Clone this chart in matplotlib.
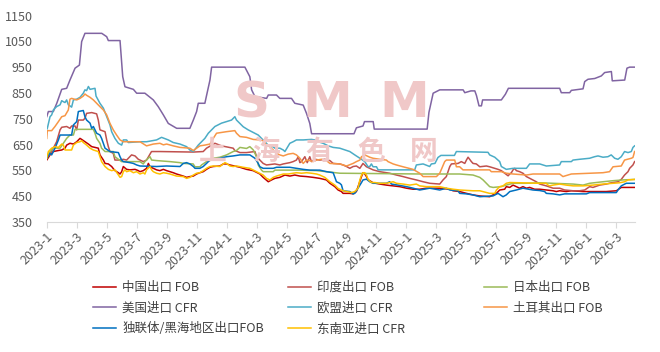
import matplotlib
matplotlib.use("Agg")
import matplotlib.pyplot as plt

plt.rcParams['font.family'] = ['Noto Sans CJK SC', 'DejaVu Sans']

# x = months since 2023-01, y = price (USD/t)
china = [(0,590),(0.22,610),(0.44,623),(0.78,627),(1.0,629),(1.22,636),(1.33,648),(1.55,655),(1.78,652),(2.0,661),(2.22,674),(2.33,670),(2.55,661),(2.78,652),(3.0,642),(3.22,639),(3.44,636),(3.55,610),(3.78,590),(3.89,577),(4.11,575),(4.33,565),(4.55,549),(4.78,541),(4.89,536),(5.0,545),(5.11,565),(5.33,554),(5.55,552),(5.89,554),(6.11,549),(6.22,545),(6.44,549),(6.66,558),(6.78,577),(6.89,564),(7.11,558),(7.33,552),(7.55,549),(7.78,554),(8.0,549),(8.22,545),(8.44,541),(8.66,536),(8.89,532),(9.11,528),(9.33,523),(9.55,526),(9.78,528),(10.0,536),(10.22,541),(10.44,545),(10.66,554),(10.89,562),(11.11,565),(11.55,567),(11.78,575),(12.0,575),(12.22,571),(12.89,562),(13.33,554),(13.77,549),(14.22,536),(14.44,523),(14.78,506),(15.0,513),(15.22,519),(15.55,523),(15.89,532),(16.22,528),(16.55,532),(16.89,528),(17.33,526),(17.77,523),(18.22,519),(18.66,513),(18.89,500),(19.22,487),(19.44,474),(19.66,468),(19.77,461),(20.22,461),(20.44,459),(20.66,468),(20.77,487),(21.0,526),(21.1,541),(21.22,536),(21.33,526),(21.44,513),(21.55,510),(21.77,502),(22.22,497),(22.66,493),(23.11,490),(23.55,487),(24.0,481),(24.44,477),(24.88,477),(25.33,481),(26.22,481),(26.89,477),(27.11,471),(27.55,468),(28.0,461),(28.44,455),(28.89,451),(29.55,448),(29.77,455),(30.0,461),(30.22,474),(30.55,477),(30.66,487),(30.89,484),(31.11,493),(31.33,487),(31.55,481),(31.77,487),(32.0,481),(32.22,484),(32.55,477),(32.89,477),(33.33,474),(33.78,471),(34.0,468),(34.22,471),(34.66,468),(35.0,471),(35.78,468),(36.66,468),(37.33,468),(38.0,471),(38.33,484),(39.22,484)]
india = [(0,597),(0.22,616),(0.44,636),(0.66,661),(0.89,707),(1.0,717),(1.33,720),(1.55,713),(1.66,722),(1.89,722),(2.0,707),(2.11,745),(2.44,745),(2.55,752),(2.66,771),(3.0,774),(3.33,769),(3.44,745),(3.55,707),(3.89,700),(4.0,668),(4.11,642),(4.22,623),(4.44,616),(4.55,590),(4.89,590),(5.11,593),(5.33,590),(5.66,610),(5.89,606),(6.11,593),(6.22,590),(6.44,584),(6.66,590),(6.99,623),(7.55,623),(9.78,621),(10.44,623),(10.66,636),(11.22,655),(11.66,645),(12.44,636),(12.55,627),(12.89,619),(13.33,619),(13.89,623),(14.0,603),(14.22,590),(14.44,577),(14.66,571),(15.22,575),(15.55,571),(15.78,575),(16.22,580),(16.44,584),(16.66,590),(16.78,603),(16.89,580),(17.0,584),(17.22,603),(17.38,580),(17.55,603),(17.66,584),(17.89,593),(18.22,590),(18.55,593),(18.89,588),(19.11,577),(19.55,575),(19.77,571),(20.0,565),(20.22,558),(20.44,565),(20.66,567),(20.89,558),(21.1,577),(21.33,564),(21.55,558),(21.77,552),(22.22,545),(22.88,539),(23.33,532),(23.77,526),(24.22,519),(24.66,513),(25.11,506),(25.55,500),(26.22,497),(26.44,513),(26.66,526),(26.89,565),(27.0,575),(27.44,577),(27.66,584),(27.89,577),(28.0,590),(28.11,601),(28.33,584),(28.44,577),(28.66,575),(28.89,564),(29.33,567),(29.55,564),(29.89,558),(30.11,554),(30.33,549),(30.55,539),(30.78,529),(30.89,536),(31.0,541),(31.11,552),(31.22,558),(31.33,549),(31.55,545),(31.77,539),(32.0,526),(32.33,516),(32.66,506),(32.89,497),(33.33,490),(33.78,481),(34.22,481),(34.55,474),(35.11,471),(35.55,471),(35.89,474),(36.22,487),(36.44,484),(36.89,493),(37.33,497),(37.66,502),(38.11,506),(38.33,515),(38.55,532),(38.78,545),(38.89,558),(39.11,571),(39.22,584)]
japan = [(0,597),(0.22,623),(0.44,636),(0.89,636),(1.11,655),(1.33,674),(1.55,687),(1.78,687),(1.89,709),(3.11,709),(3.22,694),(3.33,674),(3.55,655),(3.66,636),(3.89,623),(4.44,623),(4.55,603),(4.78,593),(5.0,584),(6.22,584),(6.44,575),(6.55,584),(6.77,597),(6.89,603),(7.0,590),(7.33,588),(8.22,584),(8.89,580),(9.11,577),(9.77,575),(9.89,564),(10.22,564),(10.33,571),(10.66,584),(10.89,588),(11.11,597),(11.55,601),(12.0,610),(12.44,623),(12.66,627),(12.89,639),(13.33,635),(13.55,642),(13.77,630),(13.89,616),(14.0,603),(14.11,571),(14.33,551),(14.44,545),(15.11,545),(15.22,551),(16.89,551),(18.0,549),(18.66,545),(19.55,539),(25.0,536),(27.55,536),(28.44,532),(28.89,523),(29.11,513),(29.33,500),(29.55,487),(29.78,484),(30.33,487),(30.66,493),(31.11,500),(32.0,500),(32.89,502),(35.11,497),(35.78,493),(36.22,500),(37.11,506),(37.78,510),(38.44,513),(39.22,515)]
usa = [(0,758),(0.11,778),(0.44,778),(0.67,810),(1.0,864),(1.33,868),(1.55,900),(1.89,946),(2.18,958),(2.33,1049),(2.55,1081),(3.67,1081),(4.0,1068),(4.11,1053),(4.89,1053),(5.07,913),(5.22,874),(5.78,864),(6.0,849),(6.55,849),(7.11,823),(7.44,797),(7.78,765),(8.11,732),(8.67,713),(9.55,713),(9.78,745),(10.0,778),(10.11,810),(10.55,810),(10.67,842),(10.89,900),(11.0,950),(13.22,950),(13.55,913),(13.67,862),(13.89,836),(14.67,829),(14.78,842),(15.33,842),(15.55,829),(16.33,829),(16.55,810),(17.11,803),(17.33,771),(17.55,732),(17.67,692),(20.5,692),(20.66,715),(21.1,722),(21.2,739),(21.78,739),(21.85,710),(25.38,710),(25.5,775),(25.78,849),(26.22,862),(27.78,862),(27.89,851),(28.3,858),(28.56,858),(28.67,840),(28.84,800),(29.0,800),(29.08,823),(30.33,823),(30.6,845),(30.8,868),(34.22,868),(34.33,851),(34.89,851),(35.0,860),(35.78,866),(35.89,894),(36.11,903),(36.56,906),(37.0,916),(37.22,929),(37.67,933),(37.73,897),(38.56,900),(38.71,946),(38.89,950),(39.22,950)]
eu = [(0,709),(0.04,713),(0.22,758),(0.33,765),(0.44,784),(0.55,791),(0.66,797),(0.89,804),(1.0,820),(1.11,816),(1.22,813),(1.33,823),(1.44,804),(1.55,800),(1.66,795),(1.78,823),(2.0,826),(2.22,833),(2.44,849),(2.55,862),(2.66,859),(2.78,875),(2.89,864),(3.22,868),(3.29,838),(3.55,810),(3.78,791),(4.0,758),(4.22,726),(4.33,700),(4.55,674),(4.78,655),(5.0,648),(5.11,668),(5.33,668),(5.44,658),(6.22,661),(6.66,661),(7.33,668),(7.66,678),(8.11,668),(8.44,658),(8.89,652),(9.33,642),(9.55,629),(9.78,623),(10.11,648),(10.55,674),(10.78,694),(11.22,720),(11.66,733),(12.0,739),(12.33,745),(12.55,758),(12.66,745),(13.11,719),(13.44,707),(13.77,697),(14.11,687),(14.33,674),(14.55,661),(14.77,648),(15.0,645),(15.22,636),(15.55,636),(15.78,629),(15.89,623),(16.22,655),(16.44,661),(16.66,668),(17.11,668),(17.66,670),(17.89,668),(18.11,661),(18.44,655),(18.78,645),(19.11,639),(19.55,636),(20.22,623),(20.55,610),(21.0,593),(21.22,584),(21.44,564),(21.55,565),(21.66,575),(21.77,564),(22.0,564),(22.11,552),(24.55,552),(24.66,571),(25.11,575),(25.55,565),(25.66,575),(25.9,577),(26.1,600),(26.3,608),(27.2,608),(27.33,623),(29.44,620),(29.55,610),(29.89,601),(30.22,584),(30.33,565),(30.66,554),(31.11,558),(32.0,558),(32.22,575),(32.89,575),(33.33,567),(34.22,571),(34.33,584),(35.0,584),(35.11,590),(35.55,593),(36.22,597),(36.55,603),(36.78,606),(37.11,601),(37.44,603),(37.66,610),(37.89,597),(38.11,593),(38.33,603),(38.55,623),(38.78,619),(39.0,623),(39.11,639),(39.22,645)]
turkey = [(0,674),(0.04,704),(0.33,704),(0.55,720),(0.78,739),(1.0,758),(1.22,762),(1.44,784),(1.55,826),(1.66,829),(2.0,823),(2.22,829),(2.44,838),(2.55,846),(2.66,841),(2.89,833),(3.11,823),(3.33,810),(3.55,797),(3.78,784),(4.0,765),(4.22,732),(4.44,707),(4.66,687),(4.89,668),(5.11,661),(6.22,661),(6.66,645),(7.11,652),(7.55,655),(7.78,649),(8.0,652),(8.44,645),(8.89,639),(9.55,636),(9.78,627),(10.0,636),(10.22,645),(10.55,648),(10.89,652),(11.11,674),(11.33,694),(12.0,700),(12.55,704),(12.66,694),(12.89,681),(13.33,678),(13.77,670),(14.22,668),(14.44,665),(14.66,648),(14.89,642),(15.11,629),(15.33,616),(15.55,610),(15.78,606),(16.11,613),(16.44,616),(16.66,610),(16.89,597),(17.11,577),(17.33,590),(17.55,588),(17.77,584),(18.0,590),(18.33,593),(18.66,588),(18.89,577),(19.55,575),(20.0,567),(20.44,577),(20.66,584),(20.89,590),(21.0,603),(21.22,610),(21.55,601),(21.77,597),(22.22,593),(22.66,590),(22.77,584),(23.11,575),(23.33,571),(23.77,564),(24.44,554),(24.88,539),(25.11,526),(26.0,526),(26.22,539),(26.55,584),(26.66,590),(27.22,590),(27.33,564),(27.55,564),(27.77,552),(29.55,552),(29.66,545),(30.33,545),(30.66,539),(31.11,536),(32.0,532),(32.44,536),(34.22,536),(34.44,526),(34.66,530),(35.0,536),(37.11,541),(37.55,545),(37.78,564),(38.33,567),(38.55,590),(39.0,597),(39.11,600),(39.22,623)]
cis = [(0,597),(0.22,616),(0.33,610),(0.55,636),(0.78,668),(0.89,687),(1.66,687),(1.78,726),(2.0,739),(2.11,778),(2.44,782),(2.55,758),(2.66,745),(2.89,733),(3.0,713),(3.11,720),(3.22,707),(3.33,694),(3.55,687),(3.66,674),(3.89,636),(4.22,623),(4.78,619),(4.89,603),(5.0,590),(5.11,584),(5.55,580),(5.78,577),(6.0,571),(6.22,567),(7.33,565),(8.0,567),(8.89,565),(9.11,577),(9.33,580),(9.55,575),(9.78,565),(9.89,558),(10.22,558),(10.44,565),(10.66,577),(10.89,590),(11.11,593),(11.55,597),(12.0,603),(12.44,606),(12.89,610),(13.55,610),(13.89,597),(14.11,577),(14.22,564),(14.44,558),(15.11,558),(15.33,562),(16.22,562),(16.66,558),(17.11,554),(17.55,551),(18.22,551),(18.66,545),(19.11,541),(19.33,506),(19.55,500),(19.66,494),(19.77,471),(20.22,468),(20.44,459),(20.55,461),(20.77,481),(21.0,503),(21.1,513),(21.33,516),(21.55,506),(21.77,500),(22.66,500),(22.88,506),(23.0,497),(23.44,493),(24.0,487),(24.44,481),(24.88,474),(25.55,481),(26.22,474),(26.66,481),(26.89,474),(27.44,471),(27.55,461),(28.0,459),(28.44,455),(28.89,448),(29.77,451),(30.11,461),(30.44,448),(30.66,455),(30.89,468),(31.33,474),(31.77,481),(32.44,474),(32.89,472),(33.22,468),(33.33,461),(33.78,459),(34.22,455),(34.55,459),(36.0,459),(36.22,464),(38.0,464),(38.11,474),(38.33,490),(38.66,500),(39.22,500)]
sea = [(0,597),(0.11,623),(0.33,636),(0.55,642),(0.78,639),(1.0,652),(1.11,648),(1.22,629),(1.66,629),(1.78,648),(2.0,658),(2.22,661),(2.33,665),(2.44,658),(2.66,648),(2.89,636),(3.11,629),(3.44,623),(3.55,603),(3.66,584),(3.89,565),(4.11,554),(4.33,549),(4.55,552),(4.78,532),(4.89,523),(5.0,526),(5.11,545),(5.22,552),(5.33,545),(5.55,549),(5.78,541),(6.0,545),(6.22,536),(6.44,541),(6.55,536),(6.66,552),(6.89,565),(7.0,552),(7.11,545),(7.33,539),(7.55,536),(7.78,541),(8.0,539),(8.22,536),(8.44,532),(8.66,528),(9.11,526),(9.33,519),(9.55,523),(9.78,532),(10.0,539),(10.22,541),(10.44,549),(10.66,558),(10.89,565),(11.11,567),(11.55,565),(11.78,575),(11.89,580),(12.0,577),(12.22,567),(12.44,565),(12.66,567),(13.11,562),(13.55,558),(14.0,545),(14.44,532),(14.66,519),(14.89,513),(15.11,523),(15.33,528),(15.55,532),(15.78,536),(16.11,536),(16.44,539),(16.66,541),(17.0,539),(17.33,541),(17.66,539),(18.0,536),(18.22,532),(18.55,523),(18.89,506),(19.22,493),(19.44,480),(19.77,471),(20.0,468),(20.33,464),(20.55,468),(20.77,481),(20.89,513),(21.0,532),(21.1,541),(21.22,541),(21.33,532),(21.44,515),(21.66,503),(21.89,503),(22.22,500),(22.66,500),(23.11,506),(23.33,500),(23.77,497),(24.22,493),(24.66,497),(24.88,490),(25.33,487),(26.22,487),(26.66,481),(27.11,477),(27.55,474),(28.44,471),(28.89,471),(29.55,461),(29.89,461),(30.0,474),(30.22,487),(30.44,490),(30.66,500),(30.89,503),(32.89,500),(33.33,500),(33.44,493),(33.55,490),(33.78,493),(34.22,497),(34.66,493),(35.11,490),(35.78,490),(36.44,493),(37.11,497),(37.78,500),(38.22,502),(38.55,506),(38.78,513),(39.22,515)]

series_names = ['中国出口 FOB', '印度出口 FOB', '日本出口 FOB', '美国进口 CFR',
                '欧盟进口 CFR', '土耳其出口 FOB', '独联体/黑海地区出口FOB', '东南亚进口 CFR']
series_data = [china, india, japan, usa, eu, turkey, cis, sea]
colors = ['#C00000', '#C0504D', '#9BBB59', '#8064A2', '#4BACC6', '#F79646', '#0070C0', '#FFC000']

tick_months = list(range(0, 39, 2))
tick_labels = ['2023-1', '2023-3', '2023-5', '2023-7', '2023-9', '2023-11',
               '2024-1', '2024-3', '2024-5', '2024-7', '2024-9', '2024-11',
               '2025-1', '2025-3', '2025-5', '2025-7', '2025-9', '2025-11',
               '2026-1', '2026-3']
y_ticks = [350, 450, 550, 650, 750, 850, 950, 1050, 1150]

fig = plt.figure(figsize=(6.6, 3.52), dpi=100)
ax = fig.add_axes([0.0708, 0.3693, 0.8914, 0.5866])

# watermark
wm = '#F0C8C8'
for ch, xc in zip('SMM', [251, 327, 404]):
    fig.text(xc / 660, 1 - 103 / 352, ch, color=wm, fontsize=36, fontweight='bold',
             family='DejaVu Sans', ha='center', va='center', zorder=0)
for ch, xc in zip('上海有色网', [213, 266, 319, 371, 424]):
    fig.text(xc / 660, 1 - 152 / 352, ch, color=wm, fontsize=20, fontweight='bold',
             ha='center', va='center', zorder=0)
ax.patch.set_alpha(0)

handles = []
for name, data, c in zip(series_names, series_data, colors):
    xs = [p[0] for p in data]
    ys = [p[1] for p in data]
    ln, = ax.plot(xs, ys, color=c, lw=1.1, label=name)
    handles.append(ln)

ax.set_xlim(0, 39.25)
ax.set_ylim(350, 1150)
ax.set_yticks(y_ticks)
ax.set_xticks(tick_months)
ax.set_xticklabels(tick_labels, rotation=45, ha='right', rotation_mode='anchor')
ax.tick_params(axis='y', length=0, pad=10, labelsize=9, labelcolor='#595959')
ax.tick_params(axis='x', length=4, color='#D9D9D9', pad=2, labelsize=9, labelcolor='#595959')
for s in ['top', 'right', 'left']:
    ax.spines[s].set_visible(False)
ax.spines['bottom'].set_color('#D9D9D9')

# legend: three fixed columns
cols = [[0, 3, 6], [1, 4, 7], [2, 5]]
xpos = [93, 288, 484]
for idx, xp in zip(cols, xpos):
    leg = fig.legend([handles[i] for i in idx], [series_names[i] for i in idx],
                     loc='upper left', bbox_to_anchor=(xp / 660, 1 - 281 / 352),
                     frameon=False, fontsize=9, handlelength=1.85, handletextpad=0.5,
                     labelspacing=0.62, borderpad=0, borderaxespad=0)
    for t in leg.get_texts():
        t.set_color('#404040')

fig.savefig('out.png', dpi=100)
